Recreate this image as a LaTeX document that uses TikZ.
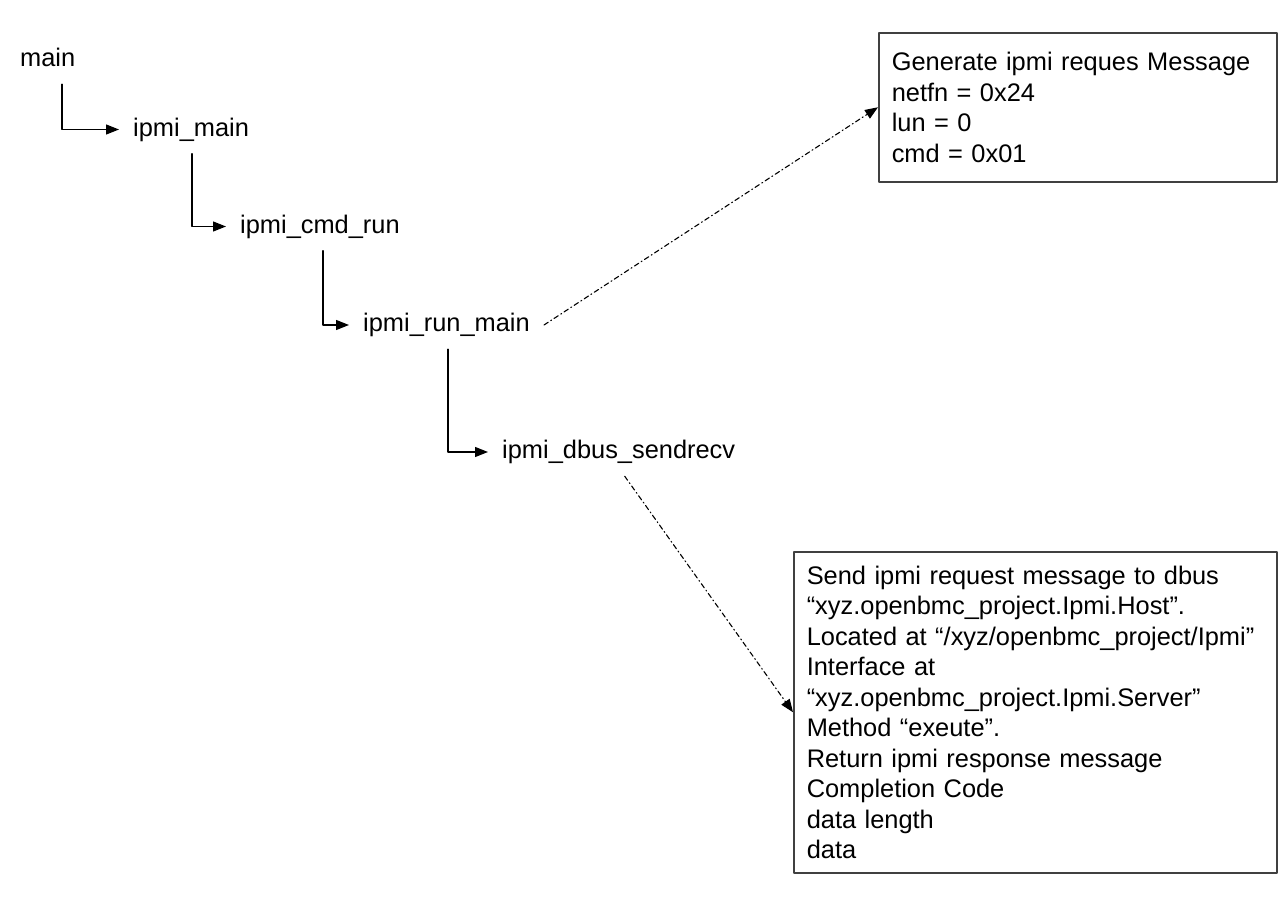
\documentclass[tikz,border=0pt]{standalone}
\usepackage{fontspec}
\setmainfont{Liberation Sans}
\usetikzlibrary{arrows.meta}

\begin{document}
\begin{tikzpicture}[x=1pt,y=-1pt,line cap=round,line join=round,
  txt/.style={font=\fontsize{25.4pt}{30.5pt}\selectfont},
  call/.style={txt,anchor=west,inner xsep=14pt,inner ysep=12pt,text height=18.5pt,text depth=5.5pt},
  msgbox/.style={txt,draw=black!75,line width=1.5pt,anchor=north west,align=left,inner xsep=13pt,inner ysep=0pt},
  flow/.style={line width=1.3pt,-{Triangle[length=13pt,width=10pt]}},
  hint/.style={line width=1.1pt,dash pattern=on 5pt off 3pt on 1pt off 3pt,-{Triangle[length=13pt,width=10pt]}}]
\fill[white] (0,0) rectangle (1288,914);
\node[call] (main) at (6,60) {main};
\node[call] (ipmimain) at (119,129.5) {ipmi\_main};
\node[call] (ipmicmdrun) at (226,226.5) {ipmi\_cmd\_run};
\node[call] (ipmirunmain) at (349,325) {ipmi\_run\_main};
\node[call] (ipmidbus) at (488,452) {ipmi\_dbus\_sendrecv};
\node[msgbox,text width=372pt,minimum height=149pt] (reqbox) at (878,32)
  {Generate ipmi reques Message\\
   netfn = 0x24\\
   lun = 0\\
   cmd = 0x01};
\node[msgbox,text width=457pt,minimum height=321pt] (rspbox) at (793,551)
  {Send ipmi request message to dbus\\
   “xyz.openbmc\_project.Ipmi.Host”.\\
   Located at “/xyz/openbmc\_project/Ipmi”\\
   Interface at\\
   “xyz.openbmc\_project.Ipmi.Server”\\
   Method “exeute”.\\
   Return ipmi response message\\
   Completion Code\\
   data length\\
   data};
\draw[flow] ([xshift=56pt]main.south west) |- (ipmimain.west);
\draw[flow] ([xshift=73pt]ipmimain.south west) |- (ipmicmdrun.west);
\draw[flow] ([xshift=97pt]ipmicmdrun.south west) |- (ipmirunmain.west);
\draw[flow] ([xshift=99pt]ipmirunmain.south west) |- (ipmidbus.west);
\draw[hint] (ipmirunmain.east) -- (reqbox.west);
\draw[hint] ([xshift=6pt]ipmidbus.south) -- (rspbox.west);
\end{tikzpicture}
\end{document}
